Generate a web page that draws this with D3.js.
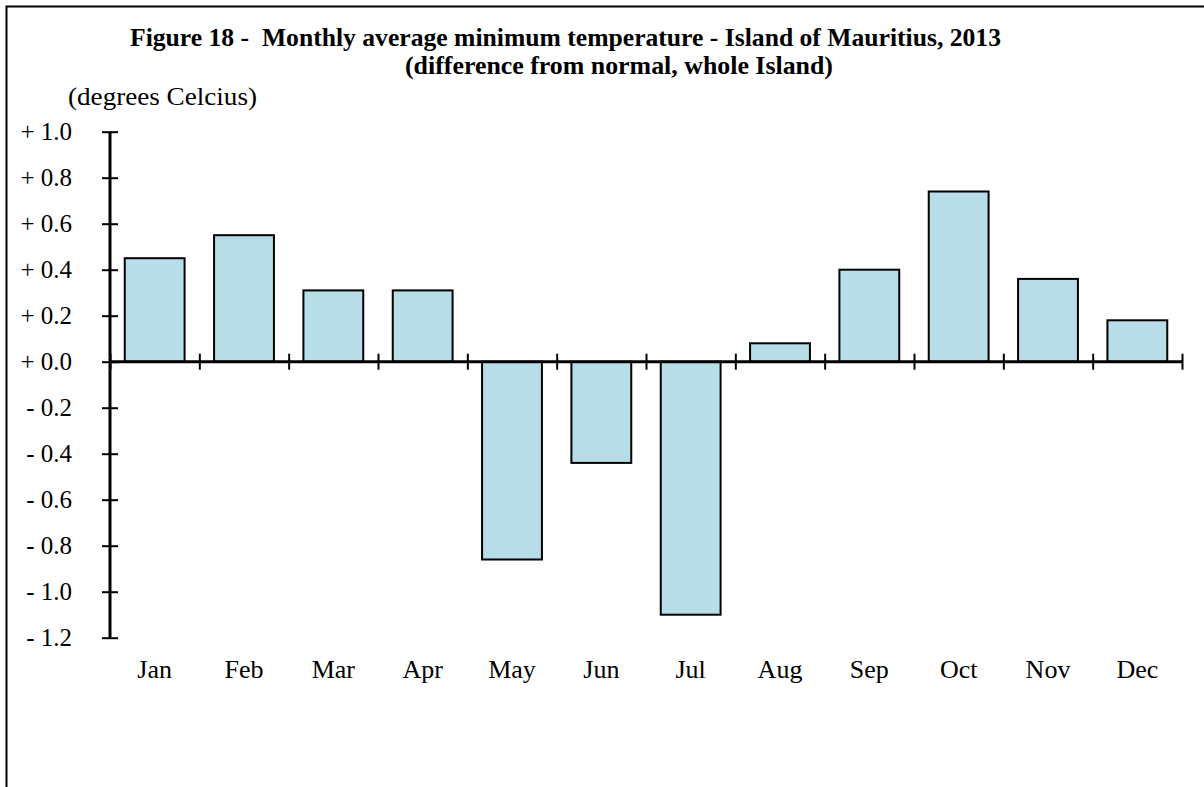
<!DOCTYPE html>
<html lang="en">
<head>
    <meta charset="UTF-8">
    <title>Figure 18 - Monthly average minimum temperature</title>
    <style>
        body {
            margin: 0;
            padding: 0;
            background-color: #ffffff;
        }
        svg text {
            font-family: "Liberation Serif", "Times New Roman", serif;
            fill: #000000;
        }
        .title {
            font-weight: bold;
            font-size: 25px;
        }
        .bar {
            fill: #b7dde8;
            stroke: #000000;
            stroke-width: 2px;
        }
    </style>
</head>
<body>
    <svg id="chart" width="1204" height="787"></svg>

    <script src="https://d3js.org/d3.v7.min.js"></script>
    <script>
        // Data
        var months = ['Jan', 'Feb', 'Mar', 'Apr', 'May', 'Jun', 'Jul', 'Aug', 'Sep', 'Oct', 'Nov', 'Dec'];
        var anomalies = [0.45, 0.55, 0.31, 0.31, -0.86, -0.44, -1.10, 0.08, 0.40, 0.74, 0.36, 0.18];
        var yTicks = [1.0, 0.8, 0.6, 0.4, 0.2, 0.0, -0.2, -0.4, -0.6, -0.8, -1.0, -1.2];

        var serif = '"Liberation Serif", "Times New Roman", serif';
        var svg = d3.select('#chart');

        // Frame (top and left edges are visible)
        svg.append('path')
            .attr('d', 'M6.5,787 L6.5,6.5 L1204,6.5')
            .attr('fill', 'none')
            .attr('stroke', '#000')
            .attr('stroke-width', 2);

        var plotLeft = 110, plotRight = 1182;

        var x = d3.scaleBand()
            .domain(months)
            .range([plotLeft, plotRight])
            .paddingInner(0.33)
            .paddingOuter(0.165);

        var y = d3.scaleLinear()
            .domain([-1.2, 1.0])
            .range([637.7, 131.7]);

        // Title (widths fitted to the original)
        svg.append('text')
            .attr('class', 'title')
            .attr('x', 130)
            .attr('y', 46)
            .attr('xml:space', 'preserve')
            .attr('textLength', 871)
            .attr('lengthAdjust', 'spacingAndGlyphs')
            .text('Figure 18 -  Monthly average minimum temperature - Island of Mauritius, 2013');

        svg.append('text')
            .attr('class', 'title')
            .attr('x', 405)
            .attr('y', 74)
            .attr('textLength', 428)
            .attr('lengthAdjust', 'spacingAndGlyphs')
            .text('(difference from normal, whole Island)');

        svg.append('text')
            .attr('x', 68)
            .attr('y', 105)
            .attr('textLength', 189)
            .attr('lengthAdjust', 'spacingAndGlyphs')
            .style('font-size', '25px')
            .text('(degrees Celcius)');

        // Bars
        svg.selectAll('.bar')
            .data(anomalies)
            .enter()
            .append('rect')
            .attr('class', 'bar')
            .attr('x', (d, i) => x(months[i]))
            .attr('width', x.bandwidth())
            .attr('y', d => y(Math.max(0, d)))
            .attr('height', d => Math.abs(y(d) - y(0)));

        // Y axis with ticks crossing the line
        var fmt = v => (v < -1e-9 ? '- ' : '+ ') + Math.abs(v).toFixed(1);
        var yAxis = svg.append('g')
            .attr('transform', 'translate(' + plotLeft + ',0)')
            .call(d3.axisLeft(y).tickValues(yTicks).tickSize(8).tickPadding(30).tickFormat(fmt))
            .attr('font-family', serif)
            .attr('font-size', 25);
        yAxis.select('.domain').remove();
        yAxis.selectAll('.tick line').attr('x1', -8).attr('x2', 8).attr('stroke-width', 2);
        svg.append('line')
            .attr('x1', plotLeft).attr('x2', plotLeft)
            .attr('y1', y(1.0)).attr('y2', y(-1.2))
            .attr('stroke', '#000').attr('stroke-width', 3);

        // Zero line with category boundary ticks
        var xb = d3.scaleLinear().domain([0, months.length]).range([plotLeft, plotRight]);
        var zeroAxis = svg.append('g')
            .attr('transform', 'translate(0,' + y(0) + ')')
            .call(d3.axisBottom(xb).ticks(months.length).tickSize(8).tickFormat(''));
        zeroAxis.select('.domain').remove();
        zeroAxis.selectAll('.tick line').attr('y1', -8).attr('y2', 8).attr('stroke-width', 2);
        svg.append('line')
            .attr('x1', plotLeft).attr('x2', plotRight)
            .attr('y1', y(0)).attr('y2', y(0))
            .attr('stroke', '#000').attr('stroke-width', 3);

        // Month labels below the plot
        var monthAxis = svg.append('g')
            .attr('transform', 'translate(0,' + y(-1.2) + ')')
            .call(d3.axisBottom(x).tickSize(0).tickPadding(22))
            .attr('font-family', serif)
            .attr('font-size', 26);
        monthAxis.select('.domain').remove();
    </script>
</body>
</html>
